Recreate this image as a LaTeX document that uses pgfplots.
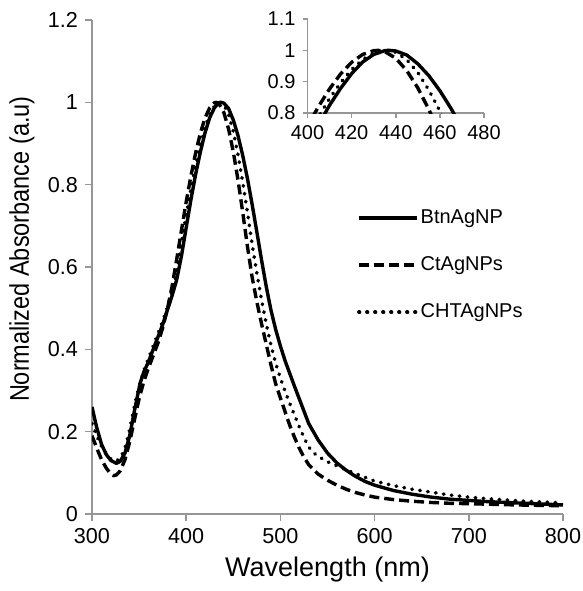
\documentclass[border=0pt]{standalone}
\usepackage{fontspec}
\setmainfont{Liberation Sans}
\usepackage{pgfplots}
\pgfplotsset{compat=1.18}
\usepackage{pgfplotstable}

\definecolor{axisgray}{RGB}{150,150,150}

% BtnAgNP (solid)
\pgfplotstableread{
x y
300 0.260
305 0.210
310 0.170
315 0.145
320 0.130
326 0.123
330 0.128
335 0.148
340 0.190
345 0.250
351 0.317
355 0.345
360 0.370
365 0.400
370 0.430
375 0.460
380 0.495
385 0.530
390 0.570
395 0.627
400 0.696
405 0.763
410 0.825
415 0.879
420 0.926
425 0.963
430 0.987
435 0.999
437 1.000
440 0.998
445 0.985
450 0.957
455 0.919
460 0.871
465 0.815
470 0.752
475 0.685
480 0.617
485 0.552
490 0.495
495 0.448
500 0.408
505 0.372
510 0.341
515 0.310
520 0.280
525 0.250
530 0.220
540 0.180
550 0.148
560 0.124
570 0.106
580 0.091
590 0.079
600 0.070
620 0.057
640 0.048
660 0.041
680 0.036
700 0.033
720 0.030
740 0.028
760 0.026
780 0.024
800 0.022
}\btn

% CtAgNPs (dashed)
\pgfplotstableread{
x y
300 0.190
305 0.160
310 0.133
315 0.112
320 0.097
323 0.093
326 0.095
330 0.105
335 0.132
340 0.175
345 0.228
350 0.280
355 0.322
360 0.355
365 0.385
370 0.415
375 0.452
380 0.497
385 0.553
390 0.620
395 0.690
400 0.758
405 0.821
410 0.877
415 0.925
420 0.962
425 0.987
430 0.999
432 1.000
435 0.996
440 0.975
445 0.935
450 0.880
455 0.811
460 0.733
465 0.650
470 0.575
475 0.515
480 0.462
485 0.412
490 0.362
495 0.316
500 0.282
505 0.248
510 0.215
515 0.186
520 0.160
525 0.138
530 0.120
540 0.097
550 0.082
560 0.070
570 0.060
580 0.052
590 0.046
600 0.041
620 0.035
640 0.031
660 0.028
680 0.026
700 0.025
750 0.022
800 0.020
}\ct

% CHTAgNPs (dotted)
\pgfplotstableread{
x y
300 0.220
305 0.190
310 0.165
315 0.147
320 0.134
325 0.128
330 0.135
335 0.160
340 0.205
345 0.262
350 0.310
355 0.348
360 0.378
365 0.408
370 0.438
375 0.468
380 0.502
385 0.540
390 0.593
395 0.660
400 0.726
405 0.789
410 0.846
415 0.897
420 0.939
425 0.971
430 0.991
436 1.000
440 0.994
445 0.970
450 0.929
455 0.873
460 0.806
465 0.733
470 0.655
475 0.585
480 0.520
485 0.462
490 0.410
495 0.366
500 0.330
505 0.298
510 0.268
515 0.240
520 0.212
525 0.186
530 0.163
535 0.149
540 0.140
550 0.127
560 0.117
570 0.107
580 0.098
590 0.089
600 0.080
620 0.069
640 0.060
660 0.053
680 0.046
700 0.041
720 0.037
740 0.034
760 0.031
780 0.029
800 0.027
}\cht

\pgfplotsset{
  spectrum/.style={
    scale only axis,
    axis lines=left,
    axis line style={-, draw=axisgray, line width=0.8pt},
    tick align=outside,
    major tick length=3.5pt,
    tick style={draw=axisgray, line width=0.8pt},
    /pgf/number format/assume math mode=true,
    every axis plot/.append style={line join=round},
  },
  solidline/.style={black, line width=1.7pt},
  dashline/.style={black, line width=1.7pt, dash pattern=on 5pt off 2.5pt},
  dotline/.style={black, line width=1.8pt, line cap=round, dash pattern=on 0.3pt off 3.7pt},
}

\begin{document}
\begin{tikzpicture}
\begin{axis}[
    spectrum,
    name=main,
    width=235.5pt, height=247pt,
    xmin=300, xmax=800,
    ymin=0, ymax=1.2,
    xtick={300,400,500,600,700,800},
    ytick={0,0.2,0.4,0.6,0.8,1,1.2},
    ticklabel style={font=\fontsize{10.8}{12}\selectfont},
    xlabel={Wavelength (nm)},
    ylabel={\scalebox{0.87}[1]{Normalized Absorbance (a.u)}},
    label style={font=\fontsize{13.5}{15}\selectfont},
    xlabel style={at={(axis description cs:0.5,-0.113)}, anchor=center},
    ylabel style={at={(axis description cs:-0.149,0.536)}, anchor=center},
    legend image code/.code={\draw[#1] (0pt,0pt) -- (29pt,0pt);},
    legend style={draw=none, fill=none, inner sep=0pt,
      at={(axis cs:581,0.75)}, anchor=north west,
      font=\fontsize{10}{12}\selectfont, row sep=11pt,
      nodes={inner sep=1pt, text height=8pt, text depth=2.5pt},
      cells={anchor=west}},
]
\addplot[solidline] table {\btn};
\addplot[dashline] table {\ct};
\addplot[dotline] table {\cht};
\legend{BtnAgNP, CtAgNPs, CHTAgNPs}
\coordinate (insetpos) at (axis cs:528.8,0.974);
\end{axis}

\begin{axis}[
    spectrum,
    at={(insetpos)}, anchor=south west,
    width=88.25pt, height=47pt,
    xmin=400, xmax=480,
    ymin=0.8, ymax=1.1,
    xtick={400,420,440,460,480},
    ytick={0.8,0.9,1,1.1},
    major tick length=2.5pt,
    ticklabel style={font=\fontsize{10}{12}\selectfont},
]
\addplot[solidline] table {\btn};
\addplot[dashline] table {\ct};
\addplot[dotline] table {\cht};
\end{axis}

\pgfresetboundingbox
\path ([shift={(-46pt,-38.5pt)}]main.south west) rectangle ([shift={(9.5pt,10pt)}]main.north east);
\end{tikzpicture}
\end{document}
